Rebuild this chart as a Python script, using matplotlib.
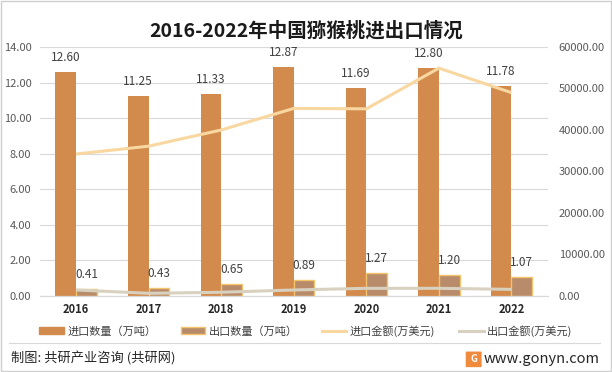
import matplotlib
matplotlib.use("Agg")
import matplotlib.pyplot as plt
import numpy as np
from matplotlib.patches import Rectangle, FancyBboxPatch

plt.rcParams['font.family'] = ['Noto Sans CJK SC', 'DejaVu Sans']

years = ['2016', '2017', '2018', '2019', '2020', '2021', '2022']
import_qty = [12.60, 11.25, 11.33, 12.87, 11.69, 12.80, 11.78]   # 万吨
export_qty = [0.41, 0.43, 0.65, 0.89, 1.27, 1.20, 1.07]          # 万吨
import_amt = [34200, 36100, 40000, 45200, 45100, 54900, 49000]   # 万美元
export_amt = [1450, 650, 900, 1450, 1850, 1850, 1600]            # 万美元

c_imp_bar = '#D38B4D'
c_exp_bar = '#B88C6A'
c_exp_edge = '#F3C46C'
c_imp_line = '#F8D7A0'
c_exp_line = '#D9D1BF'

fig = plt.figure(figsize=(6.12, 3.72), dpi=100)
ax = fig.add_axes([0.065, 0.2043, 0.830, 0.6694])
ax2 = ax.twinx()

x = np.arange(len(years))
w = 0.285
ax.bar(x - w / 2, import_qty, w, color=c_imp_bar, zorder=2)
ax.bar(x + w / 2, export_qty, w, color=c_exp_bar, edgecolor=c_exp_edge, linewidth=1, zorder=2)

for i in range(len(years)):
    ax.text(x[i] - w / 2, import_qty[i] + 0.45, f'{import_qty[i]:.2f}', ha='center', va='bottom',
            fontsize=8.5, color='#404040')
    ax.text(x[i] + w / 2, export_qty[i] + 0.45, f'{export_qty[i]:.2f}', ha='center', va='bottom',
            fontsize=8.5, color='#404040', zorder=5)

ax2.plot(x, import_amt, color=c_imp_line, lw=2.2, solid_capstyle='butt')
ax2.plot(x, export_amt, color=c_exp_line, lw=2.2, solid_capstyle='butt')

ax.set_xlim(-0.5, len(years) - 0.5)
ax.set_ylim(0, 14)
ax2.set_ylim(0, 60000)
ax.set_yticks(np.arange(0, 14.1, 2))
ax2.set_yticks(np.arange(0, 60001, 10000))
ax.set_yticklabels([f'{v:.2f}' for v in np.arange(0, 14.1, 2)])
ax2.set_yticklabels([f'{v:.2f}' for v in np.arange(0, 60001, 10000)])
ax.set_xticks(x)
ax.set_xticklabels(years, fontsize=8, fontweight='bold', color='#262626')

ax.grid(axis='y', color='#D9D9D9', lw=0.8, zorder=0)
ax.set_axisbelow(True)
for a in (ax, ax2):
    for s in ['top', 'left', 'right']:
        a.spines[s].set_visible(False)
    a.spines['bottom'].set_color('#D9D9D9')
    a.tick_params(axis='y', length=0, labelsize=8, labelcolor='#595959')
    a.tick_params(axis='x', length=0, pad=5)
ax.tick_params(axis='y', pad=6)
ax2.tick_params(axis='y', pad=8)

fig.text(0.5, 0.918, '2016-2022年中国猕猴桃进出口情况', ha='center', va='center',
         fontsize=14, fontweight='bold', color='#1a1a1a')

handles = [
    Rectangle((0, 0), 1, 1, color=c_imp_bar),
    Rectangle((0, 0), 1, 1, facecolor=c_exp_bar, edgecolor=c_exp_edge, lw=1),
    plt.Line2D([], [], color=c_imp_line, lw=2.2),
    plt.Line2D([], [], color=c_exp_line, lw=2.2),
]
labels = ['进口数量（万吨）', '出口数量（万吨）', '进口金额(万美元)', '出口金额(万美元)']
fig.legend(handles, labels, loc='center', bbox_to_anchor=(0.5, 0.11), ncol=4, frameon=False,
           fontsize=8, handlelength=2.2, handleheight=0.6, columnspacing=2.2, handletextpad=0.3,
           labelcolor='#404040')

# footer
fig.add_artist(plt.Line2D([0.015, 0.98], [0.078, 0.078], color='#D9D9D9', lw=0.8))
fig.text(0.018, 0.035, '制图: 共研产业咨询 (共研网)', ha='left', va='center', fontsize=9.5, color='#262626')
fig.text(0.98, 0.035, 'www.gonyn.com', ha='right', va='center', fontsize=10.5, color='#262626')
fig.add_artist(FancyBboxPatch((0.763, 0.015), 0.022, 0.038, boxstyle='round,pad=0.002',
                              facecolor='#F08A3C', edgecolor='none', transform=fig.transFigure))
fig.text(0.774, 0.034, 'G', ha='center', va='center', fontsize=7, fontweight='bold', color='white')

fig.add_artist(Rectangle((0.001, 0.002), 0.997, 0.995, fill=False, edgecolor='#CFCFCF', lw=1,
                         transform=fig.transFigure))

fig.savefig('out.png', dpi=100)
